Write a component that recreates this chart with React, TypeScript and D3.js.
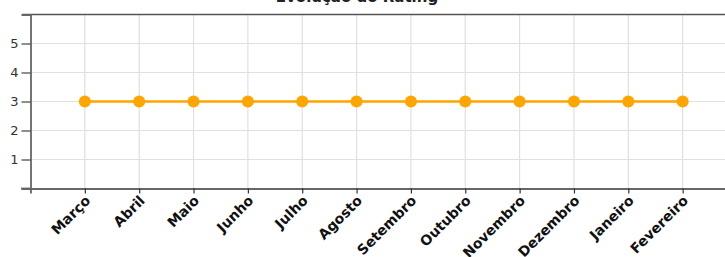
"use client";
import { useRef, useEffect } from "react";
import * as d3 from "d3";

const months = [
  "Março",
  "Abril",
  "Maio",
  "Junho",
  "Julho",
  "Agosto",
  "Setembro",
  "Outubro",
  "Novembro",
  "Dezembro",
  "Janeiro",
  "Fevereiro",
];
const ratings = [3, 3, 3, 3, 3, 3, 3, 3, 3, 3, 3, 3];
const yTicks = [1, 2, 3, 4, 5];
const title = "Evolução do Rating";

export default function App() {
  const ref = useRef<SVGSVGElement>(null);
  useEffect(() => {
    if (!ref.current) return;
    const svg = d3.select(ref.current);
    svg.selectAll("*").remove();

    const left = 30.5;
    const right = 737;
    const top = 14.5;
    const bottom = 188.5;

    const x = d3.scalePoint<string>().domain(months).range([left, right]).padding(1);
    const y = d3.scaleLinear().domain([0, 6]).range([bottom, top]);

    const g = svg.append("g");

    // grid
    g.selectAll(".vgrid")
      .data(months)
      .join("line")
      .attr("x1", (d) => x(d)!)
      .attr("x2", (d) => x(d)!)
      .attr("y1", top)
      .attr("y2", bottom)
      .attr("stroke", "#e0e0e0")
      .attr("stroke-width", 1.2);

    g.selectAll(".hgrid")
      .data(yTicks)
      .join("line")
      .attr("x1", left)
      .attr("x2", 725)
      .attr("y1", (d) => y(d))
      .attr("y2", (d) => y(d))
      .attr("stroke", "#e0e0e0")
      .attr("stroke-width", 1.2);

    // top border
    g.append("line")
      .attr("x1", 22)
      .attr("x2", 725)
      .attr("y1", top)
      .attr("y2", top)
      .attr("stroke", "#555")
      .attr("stroke-width", 1.5);

    // y axis
    const yAxis = d3.axisLeft(y).tickValues(yTicks).tickSize(9).tickSizeOuter(9).tickFormat(d3.format("d"));
    const ya = g.append("g").attr("transform", `translate(${left},0)`).call(yAxis);
    ya.select(".domain").attr("stroke", "#666").attr("stroke-width", 1.8);
    ya.selectAll(".tick line").attr("stroke", "#444").attr("stroke-width", 1.2);
    ya.selectAll(".tick text")
      .attr("fill", "#333")
      .style("font-family", "DejaVu Sans, sans-serif")
      .style("font-size", "13px");

    // x axis
    const xAxis = d3.axisBottom(x).tickSize(5).tickSizeOuter(5);
    const xa = g.append("g").attr("transform", `translate(0,${bottom})`).call(xAxis);
    xa.select(".domain").attr("stroke", "#666").attr("stroke-width", 1.8);
    xa.selectAll(".tick line").attr("stroke", "#333").attr("stroke-width", 1.2);
    xa.selectAll<SVGTextElement, string>(".tick text")
      .attr("fill", "#111")
      .style("font-family", "DejaVu Sans, sans-serif")
      .style("font-size", "14px")
      .style("font-weight", "bold")
      .attr("text-anchor", "end")
      .attr("dx", "0")
      .attr("dy", "0")
      .attr("y", 0)
      .attr("transform", "translate(6,13) rotate(-45)");

    g.append("line")
      .attr("x1", 21)
      .attr("x2", left)
      .attr("y1", bottom)
      .attr("y2", bottom)
      .attr("stroke", "#666")
      .attr("stroke-width", 1.8);

    // line
    const line = d3
      .line<number>()
      .x((_, i) => x(months[i])!)
      .y((d) => y(d));

    g.append("path")
      .datum(ratings)
      .attr("d", line)
      .attr("fill", "none")
      .attr("stroke", "#FFA500")
      .attr("stroke-width", 2.5);

    g.selectAll(".pt")
      .data(ratings)
      .join("circle")
      .attr("cx", (_, i) => x(months[i])!)
      .attr("cy", (d) => y(d))
      .attr("r", 6)
      .attr("fill", "#FFA500");

    // title
    g.append("text")
      .attr("x", 357)
      .attr("y", 2)
      .attr("text-anchor", "middle")
      .style("font-family", "DejaVu Sans, sans-serif")
      .style("font-size", "15px")
      .style("font-weight", "bold")
      .attr("fill", "#222")
      .text(title);
  }, []);

  return (
    <svg
      ref={ref}
      width={725}
      height={257}
      style={{ position: "absolute", left: 0, top: 0 }}
    />
  );
}
